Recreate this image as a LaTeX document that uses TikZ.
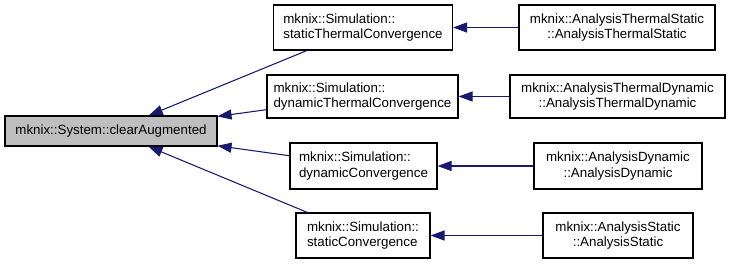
\documentclass[tikz,border=0pt]{standalone}
\usepackage{fontspec}
\setmainfont{Liberation Sans}
\usepackage{xcolor}
\usetikzlibrary{arrows.meta, positioning}
\definecolor{edgenavy}{RGB}{25,25,112}
\definecolor{focusgray}{RGB}{191,191,191}

\begin{document}
\begin{tikzpicture}[x=0.75pt, y=-0.75pt,
    fn/.style={draw=black, line width=0.8pt, inner sep=0pt,
        font=\fontsize{10}{11.5}\selectfont, minimum height=33.75pt},
    simfn/.style={fn, align=left},
    anafn/.style={fn, align=center},
    call/.style={draw=edgenavy, line width=0.8pt,
        -{Triangle[length=10.5pt, width=7.5pt]}}]
    \useasboundingbox (0,0) rectangle (731,264);

    % function being called
    \node[fn, fill=focusgray, minimum width=159pt, minimum height=22.5pt] (clr) at (111,131)
        {mknix::System::clearAugmented};

    % Simulation callers
    \node[simfn, minimum width=134.25pt] (stc) at (363,27.5)
        {mknix::Simulation::\\staticThermalConvergence};
    \node[simfn, minimum width=143.25pt, minimum height=32.25pt] (dtc) at (362.5,96.5)
        {mknix::Simulation::\\dynamicThermalConvergence};
    \node[simfn, minimum width=110.25pt, minimum height=34.5pt] (dc) at (363.5,166)
        {mknix::Simulation::\\dynamicConvergence};
    \node[simfn, minimum width=100.5pt] (sc) at (363,235.5)
        {mknix::Simulation::\\staticConvergence};

    % Analysis constructors
    \node[anafn, minimum width=147pt] (ats) at (617,27.5)
        {mknix::AnalysisThermalStatic\\::AnalysisThermalStatic};
    \node[anafn, minimum width=161.25pt, minimum height=32.25pt] (atd) at (617.5,96.5)
        {mknix::AnalysisThermalDynamic\\::AnalysisThermalDynamic};
    \node[anafn, minimum width=126pt, minimum height=34.5pt] (ad) at (618,166)
        {mknix::AnalysisDynamic\\::AnalysisDynamic};
    \node[anafn, minimum width=112.5pt] (as) at (618,235.5)
        {mknix::AnalysisStatic\\::AnalysisStatic};

    % call edges
    \foreach \caller/\ctor in {stc/ats, dtc/atd, dc/ad, sc/as} {
        \draw[call] (\caller) -- (clr);
        \draw[call] (\ctor) -- (\caller);
    }
\end{tikzpicture}
\end{document}
